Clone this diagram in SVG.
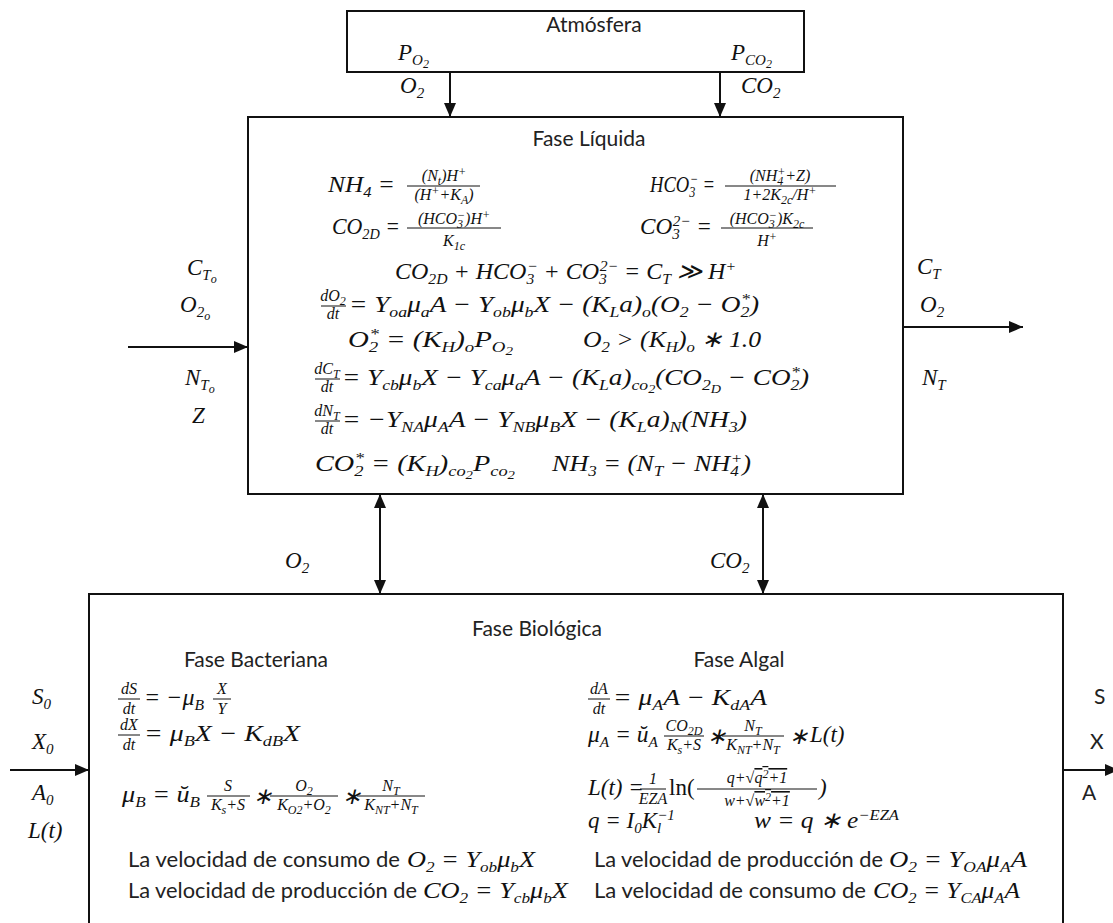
<svg xmlns="http://www.w3.org/2000/svg" width="1113" height="923" viewBox="0 0 1113 923">
<defs>
<style>
.box{fill:#fff;stroke:#111;stroke-width:2}
.ln{stroke:#111;stroke-width:2;fill:none}
.fl{stroke:#111;stroke-width:1}
.t{font-family:Lato,"Open Sans",sans-serif;font-size:21px;fill:#222}
.m{font-family:"Liberation Serif",serif;font-style:italic;font-size:23px;fill:#111}
.f{font-family:"Liberation Serif",serif;font-style:italic;font-size:16px;fill:#111;text-anchor:middle}
.s{font-size:15px;baseline-shift:-5px}
.p{font-size:15px;baseline-shift:8px}
.ss{font-size:12px;baseline-shift:-3px}
.s2{font-size:12px;baseline-shift:-4px}
.p2{font-size:12px;baseline-shift:5px}
.u{font-style:normal}
</style>
<marker id="ah" viewBox="0 0 14 12" refX="14" refY="6" markerWidth="14" markerHeight="12" markerUnits="userSpaceOnUse" orient="auto-start-reverse"><path d="M0,0 L14,6 L0,12 z" fill="#111"/></marker>
</defs>
<rect width="1113" height="923" fill="#fff"/>

<g id="atmosfera">
<rect class="box" x="347" y="11" width="457" height="61"/>
<text class="t" x="594" y="32" text-anchor="middle">Atmósfera</text>
<text class="m" x="398" y="60">P<tspan class="s">O<tspan class="ss">2</tspan></tspan></text>
<text class="m" x="731" y="60">P<tspan class="s">CO<tspan class="ss">2</tspan></tspan></text>
</g>

<g id="fase-liquida">
<rect class="box" x="248" y="117" width="655" height="377"/>
<text class="t" x="589" y="146" text-anchor="middle">Fase Líquida</text>
<text class="m" x="328" y="192" textLength="67" lengthAdjust="spacingAndGlyphs">NH<tspan class="s">4</tspan> =</text>
<line class="fl" x1="407" y1="186" x2="480" y2="186"/>
<text class="f" x="444" y="181">(N<tspan class="s2">t</tspan>)H<tspan class="p2">+</tspan></text>
<text class="f" x="444" y="200">(H<tspan class="p2">+</tspan>+K<tspan class="s2">A</tspan>)</text>
<text class="m" x="650" y="192" textLength="65" lengthAdjust="spacingAndGlyphs">HCO<tspan class="s">3</tspan><tspan class="p" dx="-7">−</tspan> =</text>
<line class="fl" x1="725" y1="186" x2="836" y2="186"/>
<text class="f" x="780" y="181">(NH<tspan class="s2">4</tspan><tspan class="p2" dx="-6">+</tspan>+Z)</text>
<text class="f" x="780" y="200">1+2K<tspan class="s2">2c</tspan>/H<tspan class="p2">+</tspan></text>
<text class="m" x="332" y="234" textLength="68" lengthAdjust="spacingAndGlyphs">CO<tspan class="s">2D</tspan> =</text>
<line class="fl" x1="407" y1="228" x2="501" y2="228"/>
<text class="f" x="454" y="224">(HCO<tspan class="s2">3</tspan><tspan class="p2" dx="-6">−</tspan>)H<tspan class="p2">+</tspan></text>
<text class="f" x="454" y="246">K<tspan class="s2">1c</tspan></text>
<text class="m" x="640" y="234" textLength="72" lengthAdjust="spacingAndGlyphs">CO<tspan class="s">3</tspan><tspan class="p" dx="-7">2−</tspan> =</text>
<line class="fl" x1="721" y1="228" x2="813" y2="228"/>
<text class="f" x="767" y="224">(HCO<tspan class="s2">3</tspan><tspan class="p2" dx="-6">−</tspan>)K<tspan class="s2">2c</tspan></text>
<text class="f" x="767" y="246">H<tspan class="p2">+</tspan></text>
<text class="m" x="395" y="279" textLength="341" lengthAdjust="spacingAndGlyphs">CO<tspan class="s">2D</tspan> + HCO<tspan class="s">3</tspan><tspan class="p" dx="-7">−</tspan> + CO<tspan class="s">3</tspan><tspan class="p" dx="-7">2−</tspan> = C<tspan class="s">T</tspan> ≫ H<tspan class="p">+</tspan></text>
<line class="fl" x1="321" y1="306" x2="346" y2="306"/>
<text class="f" x="333" y="301">dO<tspan class="s2">2</tspan></text>
<text class="f" x="333" y="319">dt</text>
<text class="m" x="349" y="312" textLength="410" lengthAdjust="spacingAndGlyphs">= Y<tspan class="s">oa</tspan>μ<tspan class="s">a</tspan>A − Y<tspan class="s">ob</tspan>μ<tspan class="s">b</tspan>X − (K<tspan class="s">L</tspan>a)<tspan class="s">o</tspan>(O<tspan class="s">2</tspan> − O<tspan class="s">2</tspan><tspan class="p" dx="-7">*</tspan>)</text>
<text class="m" x="348" y="347" textLength="165" lengthAdjust="spacingAndGlyphs">O<tspan class="s">2</tspan><tspan class="p" dx="-7">*</tspan> = (K<tspan class="s">H</tspan>)<tspan class="s">o</tspan>P<tspan class="s">O<tspan class="ss">2</tspan></tspan></text>
<text class="m" x="583" y="347" textLength="178" lengthAdjust="spacingAndGlyphs">O<tspan class="s">2</tspan> &gt;  (K<tspan class="s">H</tspan>)<tspan class="s">o</tspan> ∗ 1.0</text>
<line class="fl" x1="315" y1="379" x2="340" y2="379"/>
<text class="f" x="327" y="374">dC<tspan class="s2">T</tspan></text>
<text class="f" x="327" y="392">dt</text>
<text class="m" x="342" y="385" textLength="467" lengthAdjust="spacingAndGlyphs">= Y<tspan class="s">cb</tspan>μ<tspan class="s">b</tspan>X − Y<tspan class="s">ca</tspan>μ<tspan class="s">a</tspan>A − (K<tspan class="s">L</tspan>a)<tspan class="s">co<tspan class="ss">2</tspan></tspan>(CO<tspan class="s">2<tspan class="ss">D</tspan></tspan> − CO<tspan class="s">2</tspan><tspan class="p" dx="-7">*</tspan>)</text>
<line class="fl" x1="315" y1="421" x2="340" y2="421"/>
<text class="f" x="327" y="416">dN<tspan class="s2">T</tspan></text>
<text class="f" x="327" y="434">dt</text>
<text class="m" x="342" y="427" textLength="405" lengthAdjust="spacingAndGlyphs">= −Y<tspan class="s">NA</tspan>μ<tspan class="s">A</tspan>A − Y<tspan class="s">NB</tspan>μ<tspan class="s">B</tspan>X − (K<tspan class="s">L</tspan>a)<tspan class="s">N</tspan>(NH<tspan class="s">3</tspan>)</text>
<text class="m" x="315" y="471" textLength="200" lengthAdjust="spacingAndGlyphs">CO<tspan class="s">2</tspan><tspan class="p" dx="-7">*</tspan> = (K<tspan class="s">H</tspan>)<tspan class="s">co<tspan class="ss">2</tspan></tspan>P<tspan class="s">co<tspan class="ss">2</tspan></tspan></text>
<text class="m" x="552" y="471" textLength="199" lengthAdjust="spacingAndGlyphs">NH<tspan class="s">3</tspan> = (N<tspan class="s">T</tspan> − NH<tspan class="s">4</tspan><tspan class="p" dx="-7">+</tspan>)</text>
</g>

<g id="fase-biologica">
<rect class="box" x="89" y="594" width="974" height="340"/>
<text class="t" x="537" y="636" text-anchor="middle">Fase Biológica</text>
<text class="t" x="256" y="667" text-anchor="middle">Fase Bacteriana</text>
<text class="t" x="739" y="667" text-anchor="middle">Fase Algal</text>
<line class="fl" x1="118" y1="699" x2="140" y2="699"/>
<text class="f" x="129" y="694">dS</text>
<text class="f" x="129" y="714">dt</text>
<text class="m" x="144" y="705" textLength="60" lengthAdjust="spacingAndGlyphs">= −μ<tspan class="s">B</tspan></text>
<line class="fl" x1="213" y1="699" x2="231" y2="699"/>
<text class="f" x="222" y="694">X</text>
<text class="f" x="222" y="714">Y</text>
<line class="fl" x1="118" y1="735" x2="140" y2="735"/>
<text class="f" x="129" y="730">dX</text>
<text class="f" x="129" y="750">dt</text>
<text class="m" x="144" y="741" textLength="156" lengthAdjust="spacingAndGlyphs">= μ<tspan class="s">B</tspan>X − K<tspan class="s">dB</tspan>X</text>
<text class="m" x="122" y="802" textLength="78" lengthAdjust="spacingAndGlyphs">μ<tspan class="s">B</tspan> = ŭ<tspan class="s">B</tspan></text>
<line class="fl" x1="207" y1="796" x2="250" y2="796"/>
<text class="f" x="228" y="791">S</text>
<text class="f" x="228" y="810">K<tspan class="s2">s</tspan>+S</text>
<text class="m" x="253" y="804">∗</text>
<line class="fl" x1="270" y1="796" x2="338" y2="796"/>
<text class="f" x="304" y="791">O<tspan class="s2">2</tspan></text>
<text class="f" x="304" y="810">K<tspan class="s2">O2</tspan>+O<tspan class="s2">2</tspan></text>
<text class="m" x="342" y="804">∗</text>
<line class="fl" x1="357" y1="796" x2="425" y2="796"/>
<text class="f" x="391" y="791">N<tspan class="s2">T</tspan></text>
<text class="f" x="391" y="810">K<tspan class="s2">NT</tspan>+N<tspan class="s2">T</tspan></text>
<text class="t" x="128" y="867" textLength="272" lengthAdjust="spacingAndGlyphs">La velocidad de consumo de</text>
<text class="m" x="407" y="867" textLength="128" lengthAdjust="spacingAndGlyphs">O<tspan class="s">2</tspan> = Y<tspan class="s">ob</tspan>μ<tspan class="s">b</tspan>X</text>
<text class="t" x="128" y="898" textLength="289" lengthAdjust="spacingAndGlyphs">La velocidad de producción de</text>
<text class="m" x="423" y="898" textLength="145" lengthAdjust="spacingAndGlyphs">CO<tspan class="s">2</tspan> = Y<tspan class="s">cb</tspan>μ<tspan class="s">b</tspan>X</text>

<line class="fl" x1="588" y1="699" x2="610" y2="699"/>
<text class="f" x="599" y="694">dA</text>
<text class="f" x="599" y="714">dt</text>
<text class="m" x="613" y="705" textLength="154" lengthAdjust="spacingAndGlyphs">= μ<tspan class="s">A</tspan>A − K<tspan class="s">dA</tspan>A</text>
<text class="m" x="588" y="742" textLength="70" lengthAdjust="spacingAndGlyphs">μ<tspan class="s">A</tspan> = ŭ<tspan class="s">A</tspan></text>
<line class="fl" x1="664" y1="736" x2="704" y2="736"/>
<text class="f" x="684" y="731">CO<tspan class="s2">2D</tspan></text>
<text class="f" x="684" y="750">K<tspan class="s2">s</tspan>+S</text>
<text class="m" x="707" y="744">∗</text>
<line class="fl" x1="722" y1="736" x2="784" y2="736"/>
<text class="f" x="753" y="731">N<tspan class="s2">T</tspan></text>
<text class="f" x="753" y="750">K<tspan class="s2">NT</tspan>+N<tspan class="s2">T</tspan></text>
<text class="m" x="789" y="744">∗</text>
<text class="m" x="810" y="742">L(t)</text>
<text class="m" x="588" y="795">L(t) =</text>
<line class="fl" x1="640" y1="789" x2="666" y2="789"/>
<text class="f" x="653" y="784">1</text>
<text class="f" x="653" y="804">EZA</text>
<text class="m" x="669" y="795"><tspan class="u">ln(</tspan></text>
<line class="fl" x1="697" y1="789" x2="817" y2="789"/>
<text class="f" x="757" y="783">q+√<tspan text-decoration="overline">q<tspan class="p2">2</tspan>+1</tspan></text>
<text class="f" x="757" y="806">w+√<tspan text-decoration="overline">w<tspan class="p2">2</tspan>+1</tspan></text>
<text class="m" x="819" y="795">)</text>
<text class="m" x="588" y="828">q = I<tspan class="s">0</tspan>K<tspan class="s">l</tspan><tspan class="p" dx="-4">−1</tspan></text>
<text class="m" x="754" y="828" textLength="145" lengthAdjust="spacingAndGlyphs">w = q ∗ e<tspan class="p">−EZA</tspan></text>
<text class="t" x="594" y="867" textLength="289" lengthAdjust="spacingAndGlyphs">La velocidad de producción de</text>
<text class="m" x="889" y="867" textLength="138" lengthAdjust="spacingAndGlyphs">O<tspan class="s">2</tspan> = Y<tspan class="s">OA</tspan>μ<tspan class="s">A</tspan>A</text>
<text class="t" x="594" y="898" textLength="272" lengthAdjust="spacingAndGlyphs">La velocidad de consumo de</text>
<text class="m" x="873" y="898" textLength="147" lengthAdjust="spacingAndGlyphs">CO<tspan class="s">2</tspan> = Y<tspan class="s">CA</tspan>μ<tspan class="s">A</tspan>A</text>
</g>

<g id="connectors">
<line class="ln" x1="450" y1="72" x2="450" y2="117" marker-end="url(#ah)"/>
<line class="ln" x1="720" y1="72" x2="720" y2="117" marker-end="url(#ah)"/>
<line class="ln" x1="128" y1="347" x2="248" y2="347" marker-end="url(#ah)"/>
<line class="ln" x1="903" y1="327" x2="1023" y2="327" marker-end="url(#ah)"/>
<line class="ln" x1="380" y1="494" x2="380" y2="594" marker-start="url(#ah)" marker-end="url(#ah)"/>
<line class="ln" x1="763" y1="494" x2="763" y2="594" marker-start="url(#ah)" marker-end="url(#ah)"/>
<line class="ln" x1="10" y1="770" x2="89" y2="770" marker-end="url(#ah)"/>
<line class="ln" x1="1063" y1="770" x2="1119" y2="770" marker-end="url(#ah)"/>
</g>

<g id="labels">
<text class="m" x="400" y="93">O<tspan class="s">2</tspan></text>
<text class="m" x="741" y="93">CO<tspan class="s">2</tspan></text>
<text class="m" x="187" y="275">C<tspan class="s">T<tspan class="ss">o</tspan></tspan></text>
<text class="m" x="180" y="312">O<tspan class="s">2<tspan class="ss">o</tspan></tspan></text>
<text class="m" x="185" y="385">N<tspan class="s">T<tspan class="ss">o</tspan></tspan></text>
<text class="m" x="192" y="423">Z</text>
<text class="m" x="917" y="274">C<tspan class="s">T</tspan></text>
<text class="m" x="920" y="312">O<tspan class="s">2</tspan></text>
<text class="m" x="922" y="385">N<tspan class="s">T</tspan></text>
<text class="m" x="285" y="568">O<tspan class="s">2</tspan></text>
<text class="m" x="710" y="568">CO<tspan class="s">2</tspan></text>
<text class="m" x="32" y="704">S<tspan class="s">0</tspan></text>
<text class="m" x="32" y="749">X<tspan class="s">0</tspan></text>
<text class="m" x="32" y="800">A<tspan class="s">0</tspan></text>
<text class="m" x="28" y="838">L(t)</text>
<text class="t" x="1094" y="704">S</text>
<text class="t" x="1090" y="749">X</text>
<text class="t" x="1082" y="800">A</text>
</g>
</svg>
